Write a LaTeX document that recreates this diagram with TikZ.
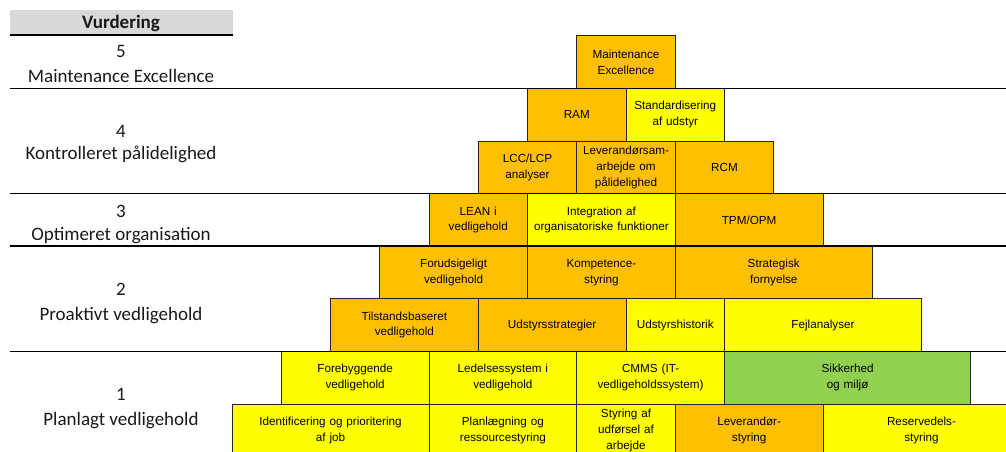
\documentclass[tikz,border=0pt]{standalone}
\usepackage{fontspec}
\setmainfont{Carlito}
\newfontfamily\boxfont{Liberation Sans}
\definecolor{org}{HTML}{FFC000}
\definecolor{ylw}{HTML}{FFFF00}
\definecolor{grn}{HTML}{92D050}
\definecolor{hdr}{HTML}{D9D9D9}
\def\pcw{49.25}
\def\pxo{232}
\def\pyo{35.8}
\def\prh{52.6}
\newcommand\pcell[6]{%
  \pgfmathsetmacro\pw{(#3-#2)*\pcw}%
  \pgfmathsetmacro\ptw{(#3-#2)*\pcw-2}%
  \pgfmathsetmacro\pcx{\pxo+(#2+#3)/2*\pcw}%
  \pgfmathsetmacro\pcy{\pyo+(#4+0.5)*\prh}%
  \node[cellbox, fill=#5, minimum width=\pw pt, text width=\ptw pt] (#1) at (\pcx,\pcy) {#6};}
\tikzset{
  cellbox/.style={draw=black!85, line width=0.7pt, inner sep=0pt, minimum height=\prh pt,
    align=center, font=\boxfont\fontsize{11.7}{15.7}\selectfont},
  rule/.style={line width=1.7pt, black},
  lvl/.style={anchor=base, font=\fontsize{19}{22}\selectfont, text=black!90, inner sep=0pt},
}
\begin{document}
\begin{tikzpicture}[x=1pt,y=-1pt]
\useasboundingbox (0,0) rectangle (1006,452);
\clip (0,0) rectangle (1006,452);
% header
\fill[hdr] (9.5,10) rectangle (233,35);
\draw[rule] (9.5,35) -- (233,35);
\node[lvl, font=\bfseries\fontsize{19}{22}\selectfont] (hd) at (121,29) {Vurdering};
% level labels
\node[lvl] (n5) at (121,58) {5};
\node[lvl] (t5) at (121,82) {Maintenance Excellence};
\node[lvl] (n4) at (121,137) {4};
\node[lvl] (t4) at (121,159) {Kontrolleret pålidelighed};
\node[lvl] (n3) at (121,217) {3};
\node[lvl] (t3) at (121,240) {Optimeret organisation};
\node[lvl] (n2) at (121,295) {2};
\node[lvl] (t2) at (121,320) {Proaktivt vedligehold};
\node[lvl] (n1) at (121,400) {1};
\node[lvl] (t1) at (121,425) {Planlagt vedligehold};
% pyramid
\pcell{me}{7}{9}{0}{org}{Maintenance\\Excellence}
\pcell{ram}{6}{8}{1}{org}{RAM}
\pcell{std}{8}{10}{1}{ylw}{Standardisering\\af udstyr}
\pcell{lcc}{5}{7}{2}{org}{LCC/LCP\\analyser}
\pcell{levs}{7}{9}{2}{org}{Leverandørsam-\\arbejde om\\pålidelighed}
\pcell{rcm}{9}{11}{2}{org}{RCM}
\pcell{lean}{4}{6}{3}{org}{LEAN i\\vedligehold}
\pcell{integ}{6}{9}{3}{ylw}{Integration af\\organisatoriske funktioner}
\pcell{tpm}{9}{12}{3}{org}{TPM/OPM}
\pcell{forud}{3}{6}{4}{org}{Forudsigeligt\\vedligehold}
\pcell{komp}{6}{9}{4}{org}{Kompetence-\\styring}
\pcell{strat}{9}{13}{4}{org}{Strategisk\\fornyelse}
\pcell{tilst}{2}{5}{5}{org}{Tilstandsbaseret\\vedligehold}
\pcell{udstr}{5}{8}{5}{org}{Udstyrsstrategier}
\pcell{udhist}{8}{10}{5}{ylw}{Udstyrshistorik}
\pcell{fejl}{10}{14}{5}{ylw}{Fejlanalyser}
\pcell{foreb}{1}{4}{6}{ylw}{Forebyggende\\vedligehold}
\pcell{ledel}{4}{7}{6}{ylw}{Ledelsessystem i\\vedligehold}
\pcell{cmms}{7}{10}{6}{ylw}{CMMS (IT-\\vedligeholdssystem)}
\pcell{sikk}{10}{15}{6}{grn}{Sikkerhed\\og miljø}
\pcell{ident}{0}{4}{7}{ylw}{Identificering og prioritering\\af job}
\pcell{plan}{4}{7}{7}{ylw}{Planlægning og\\ressourcestyring}
\pcell{styr}{7}{9}{7}{ylw}{Styring af\\udførsel af\\arbejde}
\pcell{leve}{9}{12}{7}{org}{Leverandør-\\styring}
\pcell{reserv}{12}{16}{7}{ylw}{Reservedels-\\styring}
% level rules
\draw[rule] (9.5,88.4) -- (1006,88.4);
\draw[rule] (9.5,193.6) -- (1006,193.6);
\draw[rule] (9.5,246.2) -- (1006,246.2);
\draw[rule] (9.5,351.4) -- (1006,351.4);
\end{tikzpicture}
\end{document}
